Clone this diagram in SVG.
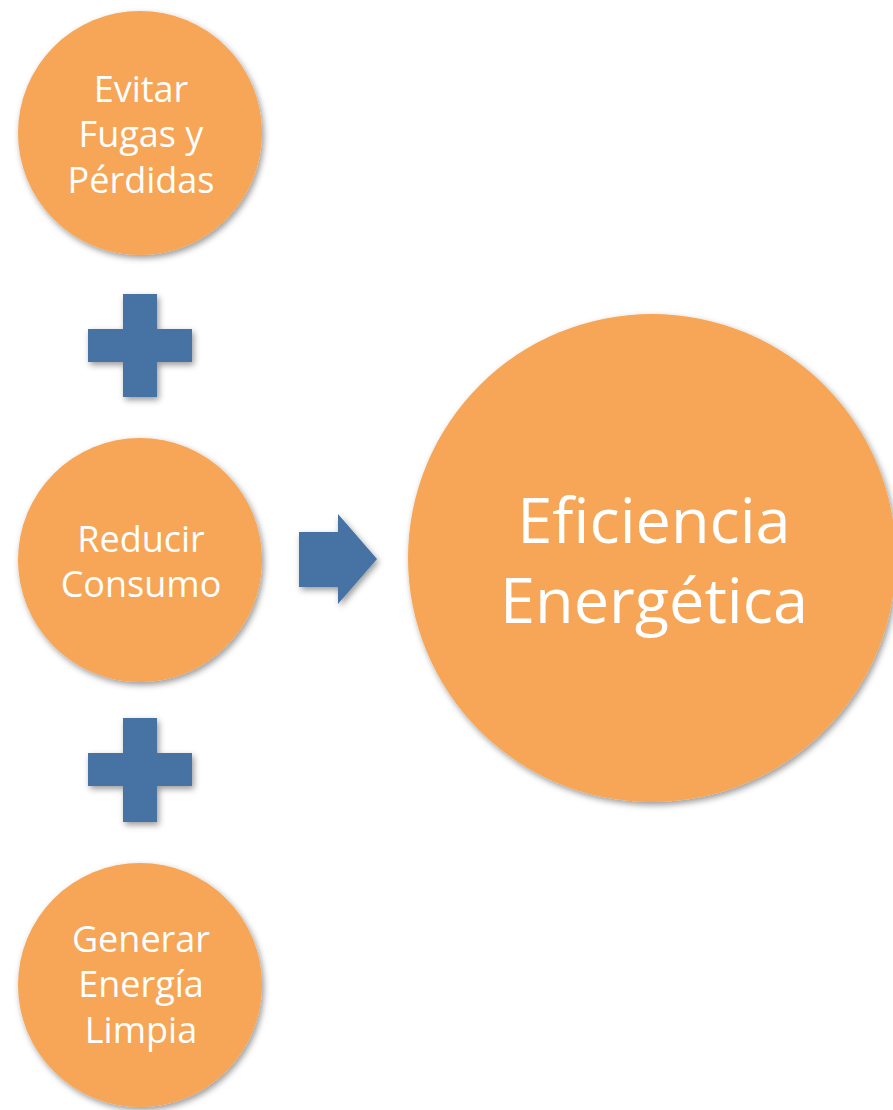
<svg xmlns="http://www.w3.org/2000/svg" width="893" height="1110" viewBox="0 0 893 1110">
<style>
.c{fill:#F6A656;filter:url(#sh)}
.s{fill:#4672A4;filter:url(#sh)}
text{font-family:"Open Sans","Noto Sans",sans-serif;fill:#ffffff;text-anchor:middle}
.t{font-size:36px}
.b{font-size:63px}
</style>
<defs>
<filter id="sh" x="-20%" y="-20%" width="140%" height="140%">
<feDropShadow dx="2" dy="3" stdDeviation="3" flood-color="#000" flood-opacity="0.4"/>
</filter>
</defs>
<rect width="893" height="1110" fill="#ffffff"/>
<g id="node-evitar">
<circle class="c" cx="140" cy="133" r="122"/>
<text class="t" x="141" y="102">Evitar</text>
<text class="t" x="141" y="147">Fugas y</text>
<text class="t" x="141" y="193">Pérdidas</text>
</g>
<g id="node-reducir">
<circle class="c" cx="140" cy="560" r="122"/>
<text class="t" x="141" y="552">Reducir</text>
<text class="t" x="141" y="597">Consumo</text>
</g>
<g id="node-generar">
<circle class="c" cx="140" cy="985" r="122"/>
<text class="t" x="141" y="952">Generar</text>
<text class="t" x="141" y="997">Energía</text>
<text class="t" x="141" y="1043">Limpia</text>
</g>
<g id="node-eficiencia">
<circle class="c" cx="652" cy="558" r="244"/>
<text class="b" x="654" y="543">Eficiencia</text>
<text class="b" x="654" y="623">Energética</text>
</g>
<g id="connectors">
<path class="s" d="M123 294H157V329H192V362H157V397H123V362H88V329H123Z"/>
<path class="s" d="M123 718H157V753H192V786H157V822H123V786H88V753H123Z"/>
<path class="s" d="M299 532H338V514L377 559L338 604V587H299Z"/>
</g>
</svg>
